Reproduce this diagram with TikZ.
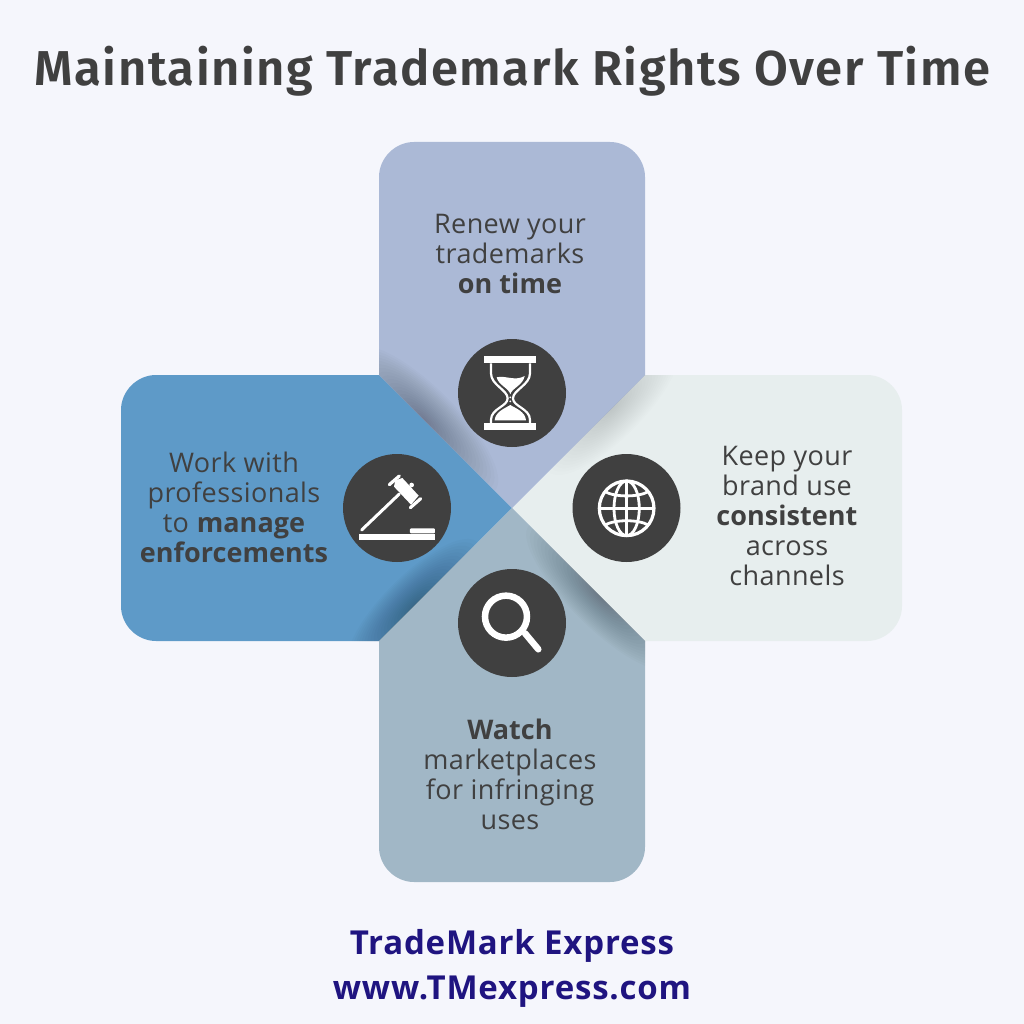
\documentclass[tikz,border=0pt]{standalone}
\usepackage{fontspec}
\usetikzlibrary{calc}
\setmainfont[LetterSpace=1.5,BoldFeatures={LetterSpace=0.2}]{Open Sans}
\newfontfamily\titlefont[LetterSpace=3.1]{Fira Sans SemiBold}
\newfontfamily\footfont[LetterSpace=2.4]{Open Sans}
\definecolor{bgc}{HTML}{F5F6FC}
\definecolor{topc}{HTML}{ABB9D6}
\definecolor{rightc}{HTML}{E7EEEE}
\definecolor{botc}{HTML}{A1B7C6}
\definecolor{leftc}{HTML}{5E9AC8}
\definecolor{dark}{HTML}{404040}
\definecolor{navy}{HTML}{1F1480}
\tikzset{
  body/.style={align=center,text=dark,font=\fontsize{27}{30}\selectfont,inner sep=0pt},
  disc/.style={circle,fill=dark,minimum size=108pt,inner sep=0pt},
  icon/.style={shift={(340,340)},x=0.3333pt,y=-0.3333pt},
  ink/.style={fill=white,draw=none},
  wire/.style={draw=white,line width=#1,fill=none}
}
% #1 clip path, #2 centre of the shadow, #3 rotation, #4 long half axis, #5 short half axis, #6 layer opacity
\newcommand{\softshade}[6]{%
  \begin{scope}
    \clip #1;
    \foreach \k in {1,...,20}{
      \fill[black,opacity=#6] (#2) ellipse[x radius=#4*\k/20,y radius=#5*\k/20,rotate=#3];
    }
  \end{scope}}
\begin{document}
\begin{tikzpicture}[x=1pt,y=-1pt]
\useasboundingbox (0,0) rectangle (1024,1024);
\fill[bgc] (0,0) rectangle (1024,1024);
\coordinate (ctr) at (512,508);
\coordinate (tl) at (379,375);
\coordinate (tr) at (645,375);
\coordinate (bl) at (379,641);
\coordinate (br) at (645,641);
\def\toppath{(tl) -- (379,177) .. controls (379,158) and (395,142) .. (414,142) -- (610,142) .. controls (629,142) and (645,158) .. (645,177) -- (tr) -- (ctr) -- cycle}
\def\rightpath{(tr) -- (867,375) .. controls (886,375) and (902,391) .. (902,410) -- (902,606) .. controls (902,625) and (886,641) .. (867,641) -- (br) -- (ctr) -- cycle}
\def\botpath{(bl) -- (379,847) .. controls (379,866) and (395,882) .. (414,882) -- (610,882) .. controls (629,882) and (645,866) .. (645,847) -- (br) -- (ctr) -- cycle}
\def\leftpath{(tl) -- (156,375) .. controls (137,375) and (121,391) .. (121,410) -- (121,606) .. controls (121,625) and (137,641) .. (156,641) -- (bl) -- (ctr) -- cycle}
\fill[leftc] \leftpath;
\fill[rightc] \rightpath;
\fill[botc] \botpath;
\fill[topc] \toppath;
% soft shadows along the diagonal seams
\softshade{\toppath}{424,420}{-45}{100}{32}{0.014}
\softshade{\rightpath}{612,408}{45}{90}{30}{0.0095}
\softshade{\botpath}{600,596}{-45}{100}{30}{0.014}
\softshade{\leftpath}{414,606}{45}{90}{30}{0.014}
% discs
\node[disc] (dtop) at (512,393) {};
\node[disc] (dleft) at (397,508) {};
\node[disc] (dright) at (626.5,508) {};
\node[disc] (dbot) at (512,623) {};
% hourglass
\begin{scope}[icon]
 \fill[ink] (433,48) rectangle (588,70);
 \fill[ink] (433,250) rectangle (588,271);
 \draw[wire=2.2pt] (453,70) -- (453,100) .. controls (453,135) and (503,150) .. (503,175) .. controls (503,200) and (453,205) .. (453,240) -- (453,250);
 \draw[wire=2.2pt] (570,70) -- (570,100) .. controls (570,135) and (519,150) .. (519,175) .. controls (519,200) and (570,205) .. (570,240) -- (570,250);
 \fill[ink] (470,112) .. controls (495,105) and (525,125) .. (554,108) .. controls (550,135) and (515,145) .. (511,163) .. controls (507,145) and (475,135) .. (470,112) -- cycle;
 \fill[ink] (464,241) .. controls (466,215) and (495,205) .. (511,195) .. controls (527,205) and (556,215) .. (558,241) -- cycle;
 \fill[ink] (511,172) circle[radius=3];
 \fill[ink] (511,184) circle[radius=3];
\end{scope}
% gavel
\begin{scope}[icon]
 \fill[ink] (57,583) rectangle (285,600);
 \fill[ink,rounded corners=1pt] (210,565) rectangle (285,580);
 \draw[wire=3pt,line cap=round] (65,570) -- (178,462);
 \fill[ink] (166,421) -- (187,414) -- (236,467) -- (213,494) -- (162,440) -- cycle;
 \draw[wire=3.2pt,line cap=round] (148,434) -- (178,408);
 \draw[wire=3.2pt,line cap=round] (211,503) -- (242,476);
 \fill[ink] (215,435) circle[radius=7];
\end{scope}
% globe
\begin{scope}[icon]
 \draw[wire=3.2pt] (860,505) circle[radius=82];
 \draw[wire=2.8pt] (860,505) ellipse[x radius=38,y radius=82];
 \draw[wire=2.8pt] (860,423) -- (860,587);
 \draw[wire=2.8pt] (778,505) -- (942,505);
 \draw[wire=2.8pt] (795,455) .. controls (825,472) and (895,472) .. (925,455);
 \draw[wire=2.8pt] (795,555) .. controls (825,538) and (895,538) .. (925,555);
\end{scope}
% magnifier
\begin{scope}[icon]
 \draw[wire=6.5pt] (498,830) circle[radius=63];
 \draw[wire=6.5pt,line cap=round] (555,880) -- (595,928);
\end{scope}
% texts
\node[inner sep=0pt,text=dark,font=\titlefont\fontsize{49}{54}\selectfont] (title) at (512.5,71) {Maintaining Trademark Rights Over Time};
\node[body] (ttop) at (510,254) {Renew your\\trademarks\\\textbf{on time}};
\node[body] (tright) at (787,516) {Keep your\\brand use\\\textbf{consistent}\\across\\channels};
\node[body] (tbot) at (510,774) {\textbf{Watch}\\marketplaces\\for infringing\\uses};
\node[body] (tleft) at (234,507) {Work with\\professionals\\to \textbf{manage}\\\textbf{enforcements}};
\node[inner sep=0pt,text=navy,font=\footfont\fontsize{33}{45}\selectfont\bfseries,align=center] (foot) at (512,968) {TradeMark Express\\www.TMexpress.com};
\end{tikzpicture}
\end{document}
